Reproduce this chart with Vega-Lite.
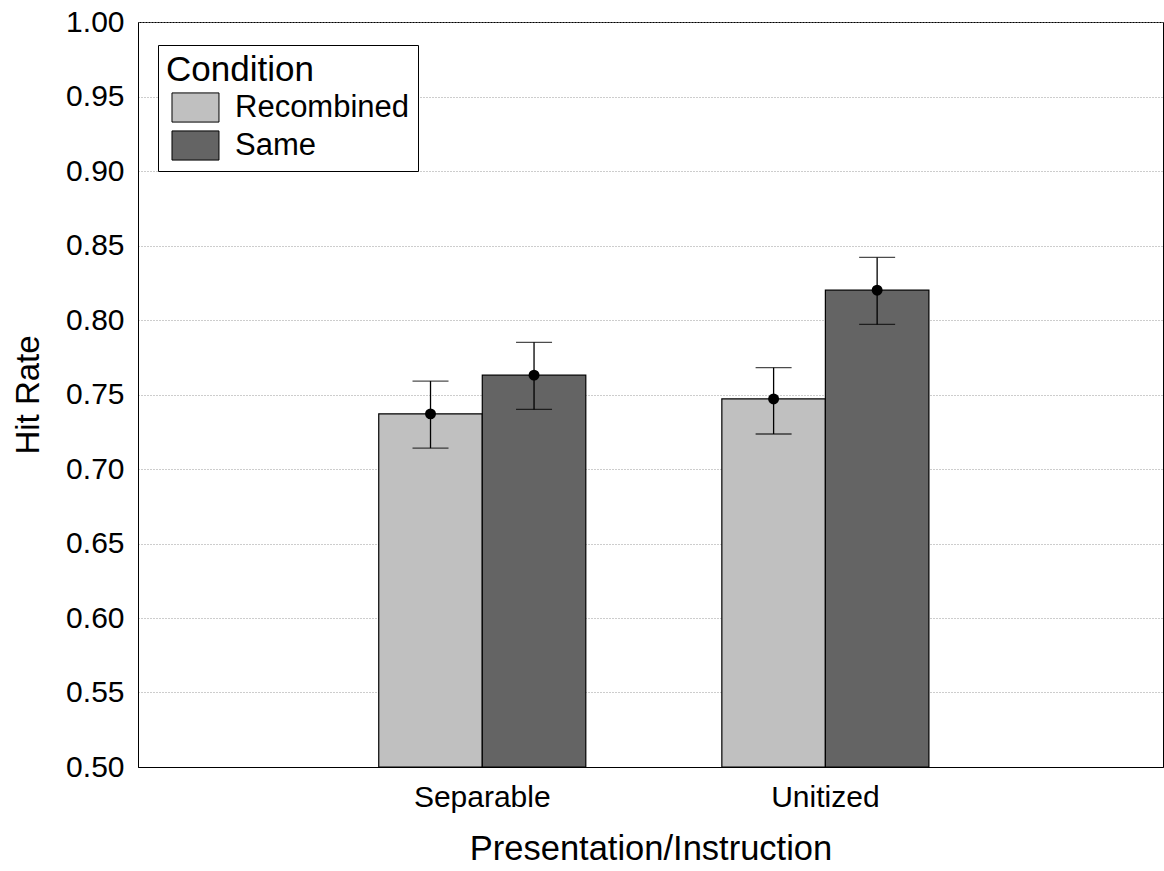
{
  "$schema": "https://vega.github.io/schema/vega-lite/v6.json",
  "autosize": {"type": "none"},
  "padding": {"left": 138, "top": 22, "right": 1, "bottom": 104},
  "width": 1025,
  "height": 745,
  "background": "white",
  "config": {
    "font": "Liberation Sans",
    "view": {"stroke": "black", "strokeWidth": 1},
    "axis": {"domainColor": "black", "labelColor": "black", "titleColor": "black", "titleFontWeight": "normal"},
    "legend": {"titleFontWeight": "normal"}
  },
  "data": {
    "values": [
      {"group": "Separable", "Condition": "Recombined", "mean": 0.737, "lo": 0.714, "hi": 0.759},
      {"group": "Separable", "Condition": "Same", "mean": 0.763, "lo": 0.740, "hi": 0.785},
      {"group": "Unitized", "Condition": "Recombined", "mean": 0.747, "lo": 0.7235, "hi": 0.768},
      {"group": "Unitized", "Condition": "Same", "mean": 0.820, "lo": 0.797, "hi": 0.842}
    ]
  },
  "encoding": {
    "x": {
      "field": "group",
      "type": "nominal",
      "title": "Presentation/Instruction",
      "scale": {"paddingInner": 0.3965, "paddingOuter": 0.692, "align": 0.507},
      "axis": {
        "labelAngle": 0,
        "labelFontSize": 30,
        "titleFontSize": 34.5,
        "ticks": false,
        "tickSize": 0,
        "labelPadding": 15,
        "titlePadding": 20,
        "domainColor": "black"
      }
    },
    "xOffset": {"field": "Condition", "type": "nominal", "scale": {"paddingInner": 0, "paddingOuter": 0}}
  },
  "layer": [
    {
      "mark": {"type": "bar", "stroke": "black", "strokeWidth": 1.2},
      "encoding": {
        "y": {
          "field": "mean",
          "type": "quantitative",
          "title": "Hit Rate",
          "scale": {"domain": [0.5, 1.0], "zero": false, "nice": false},
          "axis": {
            "values": [0.5, 0.55, 0.6, 0.65, 0.7, 0.75, 0.8, 0.85, 0.9, 0.95, 1.0],
            "format": ".2f",
            "labelFontSize": 30,
            "titleFontSize": 33,
            "ticks": false,
            "tickSize": 0,
            "labelPadding": 14,
            "titlePadding": 20,
            "grid": true,
            "gridDash": [1, 2],
            "gridColor": "#9a9a9a",
            "gridWidth": 1
          }
        },
        "y2": {"datum": 0.5},
        "fill": {
          "field": "Condition",
          "type": "nominal",
          "scale": {"domain": ["Recombined", "Same"], "range": ["#c0c0c0", "#646464"]},
          "legend": {
            "orient": "none",
            "legendX": 20,
            "legendY": 23,
            "fillColor": "white",
            "strokeColor": "black",
            "padding": 8,
            "titleFontSize": 35,
            "titlePadding": 4,
            "labelFontSize": 31,
            "labelLimit": 400,
            "symbolType": "M-0.81,-1.24H3.19V1.24H-0.81Z",
            "symbolSize": 552,
            "symbolStrokeColor": "black",
            "symbolStrokeWidth": 1,
            "symbolOpacity": 1,
            "rowPadding": 3,
            "labelOffset": 38
          }
        }
      }
    },
    {
      "mark": {"type": "rule", "color": "black", "strokeWidth": 1.3},
      "encoding": {
        "y": {"field": "lo", "type": "quantitative"},
        "y2": {"field": "hi"}
      }
    },
    {
      "mark": {"type": "tick", "color": "black", "size": 36, "thickness": 1.3, "orient": "horizontal"},
      "encoding": {"y": {"field": "lo", "type": "quantitative"}}
    },
    {
      "mark": {"type": "tick", "color": "black", "size": 36, "thickness": 1.3, "orient": "horizontal"},
      "encoding": {"y": {"field": "hi", "type": "quantitative"}}
    },
    {
      "mark": {"type": "point", "shape": "circle", "filled": true, "color": "black", "opacity": 1, "size": 120},
      "encoding": {"y": {"field": "mean", "type": "quantitative"}}
    }
  ]
}
